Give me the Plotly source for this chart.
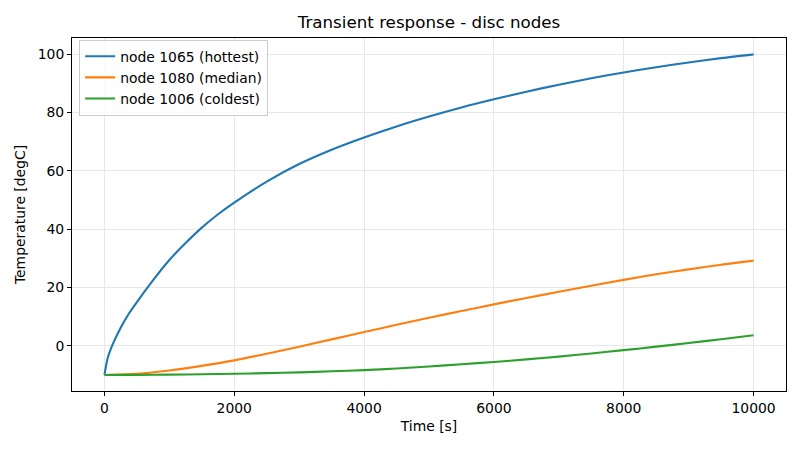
import plotly.graph_objects as go

time_hot = [0, 50, 125, 250, 375, 500, 750, 1000, 1250, 1500, 1750, 2000, 2500, 3000, 3500, 4000, 4500,
            5000, 5500, 6000, 6500, 7000, 7500, 8000, 8500, 9000, 9500, 10000]
node_1065 = [-10, -4.2, 0.4, 6.2, 11.0, 15.0, 22.5, 29.4, 35.2, 40.5, 45.1, 49.1, 56.3, 62.3, 67.2, 71.4, 75.2,
             78.6, 81.7, 84.5, 87.1, 89.5, 91.7, 93.7, 95.5, 97.1, 98.6, 99.9]

time_s = [0, 500, 1000, 1500, 2000, 2500, 3000, 3500, 4000, 4500, 5000,
          5500, 6000, 6500, 7000, 7500, 8000, 8500, 9000, 9500, 10000]
node_1080 = [-10, -9.6, -8.5, -6.9, -5.0, -2.7, -0.3, 2.2, 4.7, 7.2, 9.6,
             11.9, 14.2, 16.4, 18.5, 20.6, 22.6, 24.5, 26.2, 27.8, 29.2]
node_1006 = [-10, -9.98, -9.9, -9.78, -9.6, -9.38, -9.1, -8.75, -8.35, -7.77, -7.1,
             -6.35, -5.55, -4.65, -3.7, -2.62, -1.5, -0.3, 0.95, 2.25, 3.6]

series = [
    ("node 1065 (hottest)", time_hot, node_1065, "#1f77b4"),
    ("node 1080 (median)", time_s, node_1080, "#ff7f0e"),
    ("node 1006 (coldest)", time_s, node_1006, "#2ca02c"),
]

fig = go.Figure()
for name, xs, vals, color in series:
    fig.add_trace(go.Scatter(x=xs, y=vals, mode="lines", name=name,
                             line=dict(color=color, width=2.1, shape="spline", smoothing=0.8)))

font = "DejaVu Sans"
fig.update_layout(
    width=800, height=450,
    margin=dict(l=72, r=14, t=38, b=59),
    paper_bgcolor="white", plot_bgcolor="white",
    font=dict(family=font, size=13.9, color="black"),
    title=dict(text="Transient response - disc nodes", x=0.5, xanchor="center",
               xref="paper", y=1 - 22 / 450, yref="container", yanchor="middle",
               font=dict(size=16.7, family=font, color="black")),
    showlegend=True,
    legend=dict(x=0.01, y=0.995, xanchor="left", yanchor="top",
                bgcolor="rgba(255,255,255,0.8)", bordercolor="#cccccc", borderwidth=1,
                font=dict(size=13.9, family=font), tracegroupgap=0, itemwidth=30),
)
fig.update_xaxes(range=[-500, 10500], tickvals=[0, 2000, 4000, 6000, 8000, 10000],
                 ticktext=["0", "2000", "4000", "6000", "8000", "10000"],
                 showgrid=True, gridcolor="#e7e7e7", gridwidth=1,
                 showline=True, linecolor="black", linewidth=1, mirror=True,
                 ticks="outside", ticklen=4, tickcolor="black", zeroline=False,
                 title=dict(text="Time [s]", standoff=6, font=dict(size=13.9)))
fig.update_yaxes(range=[-15.5, 105.5], tickvals=[0, 20, 40, 60, 80, 100],
                 showgrid=True, gridcolor="#e7e7e7", gridwidth=1,
                 showline=True, linecolor="black", linewidth=1, mirror=True,
                 ticks="outside", ticklen=4, tickcolor="black", zeroline=False,
                 title=dict(text="Temperature [degC]", standoff=8, font=dict(size=13.9)))

fig.write_html("out.html")
